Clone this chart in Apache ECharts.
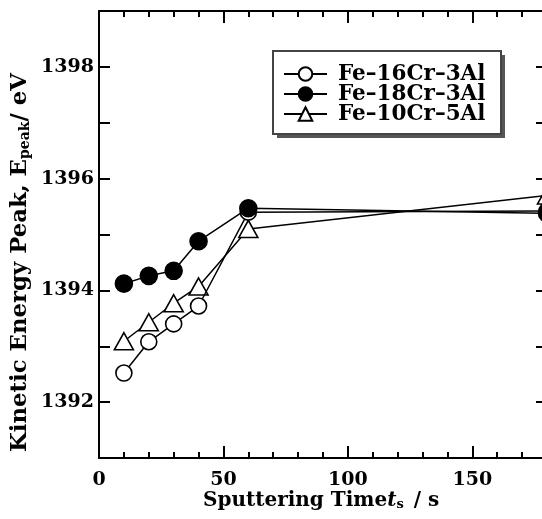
<!DOCTYPE html>
<html>
<head>
<meta charset="utf-8">
<script src="https://cdn.jsdelivr.net/npm/echarts@6/dist/echarts.min.js"></script>
<style>
  html, body { margin: 0; padding: 0; background: #fff; }
  #chart { width: 542px; height: 519px; }
</style>
</head>
<body>
<div id="chart"></div>
<script>
// Sputtering time (s)
const times = [10, 20, 30, 40, 60, 180];
// Kinetic energy peak (eV) for each alloy
const fe16cr3al = [1392.52, 1393.08, 1393.40, 1393.72, 1395.40, 1395.42];
const fe18cr3al = [1394.12, 1394.26, 1394.35, 1394.88, 1395.47, 1395.38];
const fe10cr5al = [1393.09, 1393.43, 1393.77, 1394.07, 1395.10, 1395.70];
const seriesNames = ['Fe\u201316Cr\u20133Al', 'Fe\u201318Cr\u20133Al', 'Fe\u201310Cr\u20135Al'];
// Tick positions
const xLabelTicks = [0, 50, 100, 150];
const yTicks = [1392, 1393, 1394, 1395, 1396, 1397, 1398];
const yLabelTicks = [1392, 1394, 1396, 1398];

const FONT = '"DejaVu Serif", serif';
const pairs = (ys) => times.map((t, i) => [t, ys[i]]);

const chart = echarts.init(document.getElementById('chart'), null, { renderer: 'canvas' });

const axisLine = { show: true, onZero: false, lineStyle: { color: '#000', width: 2 } };
function xAxisDef(pos, interval, tickLen, withLabels) {
  return {
    type: 'value', position: pos, min: 0, max: 180, interval: interval,
    axisLine: axisLine,
    axisTick: { show: true, inside: true, length: tickLen, lineStyle: { color: '#000', width: 2 } },
    axisLabel: withLabels ? {
      show: true, customValues: xLabelTicks, color: '#000', fontFamily: FONT,
      fontWeight: 'bold', fontSize: 19, margin: 13, formatter: (v) => String(v)
    } : { show: false },
    splitLine: { show: false }
  };
}
function yAxisDef(pos, withLabels) {
  return {
    type: 'value', position: pos, min: 1391, max: 1399, interval: 1,
    axisLine: axisLine,
    axisTick: { show: true, inside: true, length: 11, customValues: yTicks,
      lineStyle: { color: '#000', width: 2 } },
    axisLabel: withLabels ? {
      show: true, customValues: yLabelTicks, color: '#000', fontFamily: FONT,
      fontWeight: 'bold', fontSize: 19, margin: 5, formatter: (v) => String(v)
    } : { show: false },
    splitLine: { show: false }
  };
}

const lineSeries = (name, data, symbol, fill, size, z) => ({
  name: name, type: 'line', data: pairs(data), symbol: symbol, symbolSize: size,
  z: z,
  lineStyle: { color: '#000', width: 1.5 },
  itemStyle: { color: fill, borderColor: '#000', borderWidth: 1.6 },
  emphasis: { disabled: true },
  animation: false
});

const box = { x: 273, y: 51, w: 228, h: 83 };

chart.setOption({
  animation: false,
  grid: { left: 99, top: 11, right: -5, bottom: 61, containLabel: false, outerBoundsMode: 'none' },
  xAxis: [
    xAxisDef('bottom', 10, 6, true),
    Object.assign(xAxisDef('bottom', 50, 12, false), { axisLine: { show: false } }),
    xAxisDef('top', 10, 6, false),
    Object.assign(xAxisDef('top', 50, 12, false), { axisLine: { show: false } })
  ],
  yAxis: [yAxisDef('left', true), yAxisDef('right', false)],
  legend: {
    data: seriesNames,
    orient: 'vertical',
    left: box.x + 10, top: box.y + 12,
    itemWidth: 43, itemHeight: 17, itemGap: -2,
    padding: 0,
    textStyle: { color: '#000', fontFamily: FONT, fontWeight: 'bold', fontSize: 21.5,
      lineHeight: 20, padding: [0, 0, 0, 6] },
    z: 20
  },
  graphic: [
    { type: 'rect', z: 10, shape: { x: box.x + 4, y: box.y + 4, width: box.w, height: box.h },
      style: { fill: '#555' } },
    { type: 'rect', z: 11, shape: { x: box.x, y: box.y, width: box.w, height: box.h },
      style: { fill: '#fff', stroke: '#444', lineWidth: 2 } },
    { type: 'text', z: 12, left: 203, top: 491,
      style: {
        text: '{b|Sputtering Time}{i|t}{s|s}{b| / s}',
        rich: {
          b: { fontFamily: FONT, fontWeight: 'bold', fontSize: 20, fill: '#000' },
          i: { fontFamily: FONT, fontWeight: 'bold', fontStyle: 'italic', fontSize: 20, fill: '#000' },
          s: { fontFamily: FONT, fontWeight: 'bold', fontSize: 13, fill: '#000', verticalAlign: 'bottom', padding: [8, 3, 0, 0] }
        }
      } },
    { type: 'text', z: 12, x: 9, y: 452, rotation: Math.PI / 2,
      style: {
        text: '{b|Kinetic Energy Peak, E}{s|peak}{b|/ eV}',
        rich: {
          b: { fontFamily: FONT, fontWeight: 'bold', fontSize: 22.8, fill: '#000' },
          s: { fontFamily: FONT, fontWeight: 'bold', fontSize: 14, fill: '#000', verticalAlign: 'bottom', padding: [9, 0, 0, 0] }
        }
      } }
  ],
  series: [
    lineSeries(seriesNames[2], fe10cr5al, 'triangle', '#fff', [19, 17], 3),
    lineSeries(seriesNames[0], fe16cr3al, 'circle', '#fff', 16, 4),
    lineSeries(seriesNames[1], fe18cr3al, 'circle', '#000', 17, 5)
  ]
});
</script>
</body>
</html>
